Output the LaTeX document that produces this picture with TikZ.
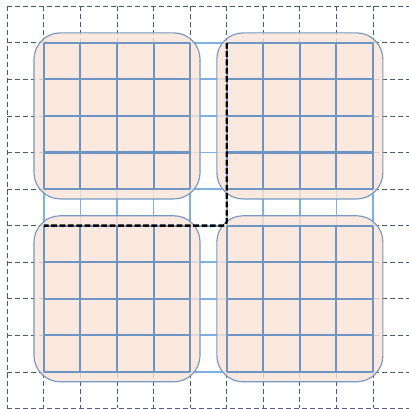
\documentclass[tikz,border=0pt]{standalone}
\definecolor{dgridc}{RGB}{75,91,120}
\definecolor{lgridc}{RGB}{126,176,225}
\definecolor{igridc}{RGB}{110,148,194}
\definecolor{panefill}{RGB}{250,228,215}
\definecolor{paneline}{RGB}{120,152,196}
\begin{document}
\begin{tikzpicture}[x=1cm,y=1cm,
  dgrid/.style={draw=dgridc, line width=0.6pt, dash pattern=on 3.9pt off 2.3pt},
  lgrid/.style={draw=lgridc, line width=1.4pt},
  igrid/.style={draw=igridc, line width=1.6pt},
  pane/.style={draw=paneline, line width=0.9pt, fill=panefill, fill opacity=0.8,
    rounded corners=0.72cm, minimum size=4.54cm, inner sep=0pt, outer sep=0pt},
  route/.style={draw=black, line width=1.9pt, dash pattern=on 4.5pt off 2pt, rounded corners=0.1cm}]
\useasboundingbox (-0.2,0.17) rectangle (10.984,-11.014);
\path[clip] (-0.2,0.17) rectangle (10.984,-11.014);
% dashed background grid
\foreach \i in {0,...,11} {
  \draw[dgrid] (\i,0) -- (\i,-11);
  \draw[dgrid] (0,-\i) -- (11,-\i);
}
% light blue grid
\foreach \i in {1,...,10} {
  \draw[lgrid] (\i,-1) -- (\i,-10);
  \draw[lgrid] (1,-\i) -- (10,-\i);
}
% panes
\node[pane] (tl) at (3,-3) {};
\node[pane] (tr) at (8,-3) {};
\node[pane] (bl) at (3,-8) {};
\node[pane] (br) at (8,-8) {};
% inner grids
\foreach \cx/\cy in {3/3, 8/3, 3/8, 8/8} {
  \foreach \k in {-2,...,2} {
    \draw[igrid] ({\cx+\k},{-\cy+2}) -- ({\cx+\k},{-\cy-2});
    \draw[igrid] ({\cx-2},{-\cy+\k}) -- ({\cx+2},{-\cy+\k});
  }
}
% route
\coordinate (p1) at (6,-1);
\coordinate (p2) at (6,-6);
\coordinate (p3) at (1,-6);
\draw[route] (p1) -- (p2) -- (p3);
\end{tikzpicture}
\end{document}
